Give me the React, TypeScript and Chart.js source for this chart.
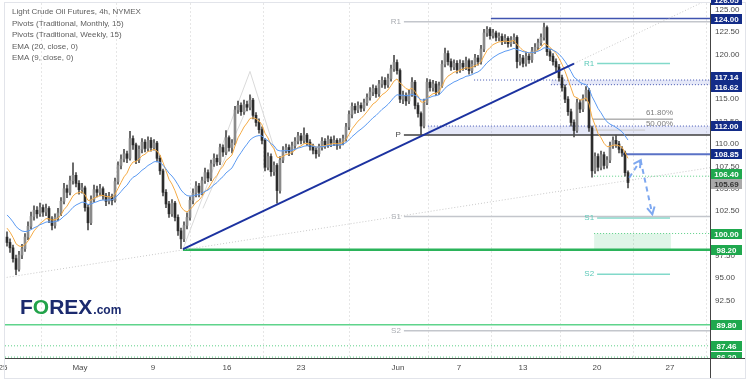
import React, { useEffect, useRef } from "react";
import { Chart, registerables } from "chart.js";

Chart.register(...registerables);

// ---- Candles (4h bars, index 0 = 25 Apr) ----
const OPEN = [
  99.6, 99.0, 98.4, 97.2, 96.0, 97.6, 98.3, 99.6, 100.8, 101.9,
  102.6, 102.2, 102.9, 102.4, 102.8, 101.6, 100.9, 101.8, 102.3, 103.6,
  105.0, 104.6, 105.9, 106.5, 105.6, 104.9, 105.1, 102.9, 101.2, 103.8,
  104.9, 104.6, 105.0, 104.2, 103.6, 104.1, 103.7, 105.8, 107.6, 108.3,
  108.9, 108.4, 110.6, 109.9, 108.2, 109.4, 110.2, 109.5, 110.4, 109.6,
  110.1, 108.4, 107.0, 104.6, 103.3, 102.2, 103.4, 101.8, 100.3, 99.4,
  100.9, 101.8, 103.7, 104.5, 105.3, 104.6, 105.9, 106.8, 106.2, 107.8,
  108.4, 108.0, 109.6, 109.1, 110.7, 109.6, 110.1, 113.8, 114.3, 113.6,
  114.4, 114.1, 114.9, 113.2, 112.4, 111.6, 110.4, 107.4, 108.6, 106.9,
  107.6, 104.8, 108.2, 109.3, 109.6, 109.1, 109.8, 110.3, 110.9, 110.4,
  111.0, 110.2, 109.7, 109.3, 108.9, 109.6, 110.3, 109.9, 110.5, 110.1,
  110.4, 109.8, 110.2, 110.6, 111.9, 113.3, 114.2, 113.8, 114.3, 114.0,
  114.6, 115.2, 115.8, 116.2, 115.6, 116.7, 117.1, 116.6, 117.3, 118.4,
  119.1, 118.2, 115.0, 115.4, 114.8, 115.6, 116.9, 114.3, 113.4, 112.0,
  114.6, 116.9, 116.3, 116.7, 115.8, 116.5, 118.9, 120.1, 119.2, 118.6,
  119.0, 118.3, 119.0, 118.6, 119.3, 118.2, 118.9, 119.6, 119.2, 120.6,
  122.4, 122.8, 122.1, 122.4, 121.9, 122.0, 121.5, 121.8, 121.2, 121.6,
  121.9, 119.2, 119.6, 119.0, 119.8, 119.4, 120.4, 120.8, 121.3, 121.9,
  123.0, 120.3, 119.8, 119.2, 118.6, 117.4, 116.3, 115.0, 113.6, 112.4,
  111.5, 114.6, 113.9, 115.1, 116.0, 111.8, 107.0, 108.6, 107.4, 108.8,
  107.6, 108.2, 109.8, 110.4, 110.0, 109.4, 109.0, 106.8,
];
const HIGH = [
  100.2, 99.4, 98.7, 97.6, 98.0, 98.8, 100.0, 101.3, 102.4, 103.1,
  103.0, 103.4, 103.2, 103.3, 103.0, 101.9, 102.2, 102.8, 104.0, 105.6,
  105.4, 106.4, 107.9, 106.8, 105.9, 105.6, 105.3, 103.2, 104.2, 105.4,
  105.3, 105.5, 105.2, 104.5, 104.6, 104.4, 106.2, 108.0, 108.8, 109.4,
  109.2, 111.4, 110.9, 110.1, 109.8, 110.6, 110.5, 110.8, 110.7, 110.5,
  110.3, 108.7, 107.2, 104.9, 103.6, 103.8, 103.6, 102.1, 100.6, 101.3,
  102.3, 104.1, 105.0, 105.8, 105.6, 106.3, 107.3, 107.1, 108.2, 108.9,
  108.8, 110.0, 109.9, 111.5, 110.9, 110.5, 114.2, 114.8, 114.6, 114.9,
  114.8, 115.5, 115.1, 113.5, 112.8, 111.9, 110.6, 109.0, 108.9, 108.0,
  107.8, 108.6, 109.7, 110.0, 109.9, 110.2, 110.7, 111.3, 111.2, 111.8,
  111.2, 110.5, 110.0, 109.6, 110.0, 110.7, 110.6, 110.9, 110.8, 110.9,
  110.6, 110.6, 111.0, 112.3, 113.7, 114.6, 114.5, 114.7, 114.6, 115.0,
  115.6, 116.3, 116.6, 116.5, 117.1, 117.5, 117.4, 117.8, 118.8, 119.9,
  119.4, 118.4, 115.9, 115.7, 116.0, 117.4, 117.1, 114.6, 113.6, 115.0,
  117.3, 117.2, 117.1, 117.0, 116.9, 119.3, 120.7, 120.4, 119.5, 119.4,
  119.3, 119.4, 119.3, 119.7, 119.5, 119.3, 120.0, 119.9, 121.0, 122.8,
  123.1, 123.0, 122.8, 122.6, 122.4, 122.3, 122.2, 122.0, 122.0, 122.3,
  122.1, 120.0, 119.9, 120.2, 120.1, 120.8, 121.2, 121.7, 122.3, 123.5,
  123.2, 120.6, 120.1, 119.5, 118.9, 117.7, 116.6, 115.3, 113.9, 112.7,
  115.0, 114.9, 115.5, 116.4, 116.2, 112.0, 109.0, 108.9, 109.2, 109.1,
  108.6, 110.2, 110.8, 111.0, 110.3, 109.7, 109.2, 107.0,
];
const LOW = [
  98.6, 97.9, 96.8, 95.4, 95.8, 97.2, 98.0, 99.3, 100.5, 101.5,
  101.7, 101.9, 101.9, 102.0, 101.2, 100.4, 100.6, 101.4, 102.0, 103.3,
  104.0, 104.3, 105.5, 105.2, 104.4, 104.5, 102.5, 100.4, 101.0, 103.5,
  104.1, 104.2, 103.8, 103.1, 103.3, 103.2, 103.5, 105.5, 107.2, 108.0,
  107.9, 108.2, 109.4, 107.8, 107.9, 109.0, 109.1, 109.2, 109.2, 109.3,
  108.0, 106.6, 104.2, 102.9, 101.8, 101.9, 101.4, 99.8, 98.3, 99.1,
  100.5, 101.5, 103.3, 104.1, 104.1, 104.3, 105.6, 105.8, 105.9, 107.5,
  107.6, 107.7, 108.6, 108.8, 109.2, 109.0, 109.9, 113.4, 113.2, 113.3,
  113.7, 113.8, 112.8, 112.0, 111.2, 110.0, 107.0, 107.1, 106.4, 106.5,
  103.4, 104.5, 107.9, 109.0, 108.7, 108.8, 109.5, 110.0, 110.0, 110.1,
  109.8, 109.3, 108.9, 108.4, 108.6, 109.3, 109.5, 109.6, 109.7, 109.8,
  109.4, 109.5, 109.9, 110.3, 111.6, 112.9, 113.4, 113.5, 113.6, 113.7,
  114.3, 114.9, 115.4, 115.2, 115.3, 116.3, 116.2, 116.3, 117.0, 118.1,
  117.8, 114.6, 114.5, 114.3, 114.5, 115.3, 113.9, 113.0, 111.0, 111.8,
  114.4, 115.9, 115.9, 115.4, 115.5, 116.3, 118.6, 118.8, 118.2, 118.3,
  117.9, 118.0, 118.2, 118.3, 117.8, 117.9, 118.6, 118.8, 118.9, 120.3,
  122.0, 121.7, 121.8, 121.5, 121.5, 121.1, 121.2, 120.8, 120.9, 121.2,
  118.5, 118.8, 118.6, 118.7, 119.0, 119.1, 120.1, 120.5, 121.0, 121.6,
  119.9, 119.3, 118.8, 118.1, 117.0, 115.9, 114.6, 113.2, 112.0, 110.8,
  111.3, 113.5, 113.6, 114.8, 111.4, 106.3, 106.7, 107.0, 107.1, 107.2,
  107.3, 107.9, 109.5, 109.6, 109.0, 108.6, 106.4, 105.1,
];
const CLOSE = [
  99.0, 98.4, 97.2, 96.0, 97.6, 98.3, 99.6, 100.8, 101.9, 102.6,
  102.2, 102.9, 102.4, 102.8, 101.6, 100.9, 101.8, 102.3, 103.6, 105.0,
  104.6, 105.9, 106.5, 105.6, 104.9, 105.1, 102.9, 101.2, 103.8, 104.9,
  104.6, 105.0, 104.2, 103.6, 104.1, 103.7, 105.8, 107.6, 108.3, 108.9,
  108.4, 110.6, 109.9, 108.2, 109.4, 110.2, 109.5, 110.4, 109.6, 110.1,
  108.4, 107.0, 104.6, 103.3, 102.2, 103.4, 101.8, 100.3, 99.4, 100.9,
  101.8, 103.7, 104.5, 105.3, 104.6, 105.9, 106.8, 106.2, 107.8, 108.4,
  108.0, 109.6, 109.1, 110.7, 109.6, 110.1, 113.8, 114.3, 113.6, 114.4,
  114.1, 114.9, 113.2, 112.4, 111.6, 110.4, 107.4, 108.6, 106.9, 107.6,
  104.8, 108.2, 109.3, 109.6, 109.1, 109.8, 110.3, 110.9, 110.4, 111.0,
  110.2, 109.7, 109.3, 108.9, 109.6, 110.3, 109.9, 110.5, 110.1, 110.4,
  109.8, 110.2, 110.6, 111.9, 113.3, 114.2, 113.8, 114.3, 114.0, 114.6,
  115.2, 115.8, 116.2, 115.6, 116.7, 117.1, 116.6, 117.3, 118.4, 119.1,
  118.2, 115.0, 115.4, 114.8, 115.6, 116.9, 114.3, 113.4, 112.0, 114.6,
  116.9, 116.3, 116.7, 115.8, 116.5, 118.9, 120.1, 119.2, 118.6, 119.0,
  118.3, 119.0, 118.6, 119.3, 118.2, 118.9, 119.6, 119.2, 120.6, 122.4,
  122.8, 122.1, 122.4, 121.9, 122.0, 121.5, 121.8, 121.2, 121.6, 121.9,
  119.2, 119.6, 119.0, 119.8, 119.4, 120.4, 120.8, 121.3, 121.9, 123.0,
  120.3, 119.8, 119.2, 118.6, 117.4, 116.3, 115.0, 113.6, 112.4, 111.5,
  114.6, 113.9, 115.1, 116.0, 111.8, 107.0, 108.6, 107.4, 108.8, 107.6,
  108.2, 109.8, 110.4, 110.0, 109.4, 109.0, 106.8, 105.69,
];

// EMA starting values
const EMA20_SEED = 102.4;
const EMA9_SEED = 101.0;

// ---- Axes ----
const DATE_TICKS = [-1.33, 24.33, 48.67, 73.33, 98, 130.33, 150.67, 172, 196.67, 221];
const DATE_LABELS = ["25", "May", "9", "16", "23", "Jun", "7", "13", "20", "27"];
const Y_TICKS = [87.5, 90, 92.5, 95, 97.5, 100, 102.5, 105, 107.5, 110, 112.5, 115, 117.5, 120, 122.5, 125];
const X_MIN = -0.667;
const X_MAX = 234.33;
const Y_MIN = 86.1;
const Y_MAX = 125.74;

// ---- Pivots ----
const MONTHLY_PIVOTS = [123.65, 111.0, 101.9, 89.15];
const MONTHLY_LABELS = ["R1", "P", "S1", "S2"];
const MONTHLY_START = 132.3;
const WEEKLY_PIVOTS = [118.98, 101.73, 95.45];
const WEEKLY_LABELS = ["R1", "S1", "S2"];
const WEEKLY_RANGE = [196.7, 221];
const FIB_VALUES = [112.77, 111.55];
const FIB_LABELS = ["61.80%", "50.00%"];
const FIB_START = 195.3;
const FIB_ENDS = [222, 212.7];

// ---- Horizontal levels ----
const RESISTANCE_LEVELS = [124.0, 117.14, 116.62, 112.0, 108.85];
const RESISTANCE_START = [161.3, 155.7, 181.3, 140.3, 205.3];
const SUPPORT_LEVELS = [106.4, 100.0, 98.2, 89.8, 87.46, 86.2];
const SUPPORT_START = [195.7, 195.7, 58.67, X_MIN, X_MIN, X_MIN];
const TOP_LEVEL = 126.05;
const ZONE_BLUE_1 = [116.62, 117.14, 181.3];
const ZONE_BLUE_2 = [111.0, 112.0, 140.3];
const ZONE_GREEN = [98.2, 100.0, 195.7, 221.3];

// ---- Drawn lines [index, price] ----
const NAVY_TREND = [[58.67, 98.25], [189, 118.98]];
const TREND_EXT = [[189, 118.98], [234.33, 126.22]];
const LONG_TREND = [[-0.1, 95.1], [234.33, 107.35]];
const CHANNEL_A = [[58.67, 98.26], [81, 118.1]];
const CHANNEL_B = [[65.3, 102.8], [81.7, 115.3]];
const CHANNEL_C = [[81, 118.1], [89.9, 108.6]];
const ARROW_PATH = [[207.4, 106.23], [211.2, 108.19], [215.1, 102.15]];

const LEGEND = [
  "Light Crude Oil Futures, 4h, NYMEX",
  "Pivots (Traditional, Monthly, 15)",
  "Pivots (Traditional, Weekly, 15)",
  "EMA (20, close, 0)",
  "EMA (9, close, 0)",
];

const FONT = '"Liberation Sans", Arial, sans-serif';

function ema(src: number[], n: number, seed: number) {
  const k = 2 / (n + 1);
  let e = seed;
  return src.map((v) => (e = v * k + e * (1 - k)));
}

function seg(pts: number[][], color: string, width: number, dash: number[], order: number) {
  return {
    type: "line" as const,
    data: pts.map(([x, y]) => ({ x, y })),
    borderColor: color,
    borderWidth: width,
    borderDash: dash,
    pointRadius: 0,
    fill: false,
    tension: 0,
    order,
  };
}

export default function App() {
  const ref = useRef<HTMLCanvasElement>(null);

  useEffect(() => {
    const canvas = ref.current!;
    const ema20 = ema(CLOSE, 20, EMA20_SEED);
    const ema9 = ema(CLOSE, 9, EMA9_SEED);
    const up = CLOSE.map((c, i) => c >= OPEN[i]);

    const lines: any[] = [];
    MONTHLY_PIVOTS.forEach((v, k) => {
      const isP = MONTHLY_LABELS[k] === "P";
      lines.push(seg([[MONTHLY_START, v], [X_MAX, v]], isP ? "#3f3f3f" : "#c3c6cc", 1.5, [], 10));
    });
    WEEKLY_PIVOTS.forEach((v) => lines.push(seg([[WEEKLY_RANGE[0], v], [WEEKLY_RANGE[1], v]], "#82d9ca", 1.5, [], 10)));
    FIB_VALUES.forEach((v, k) => lines.push(seg([[FIB_START, v], [FIB_ENDS[k], v]], k === 0 ? "#8a8a8a" : "#c9c9c9", 1, [], 10)));
    RESISTANCE_LEVELS.forEach((v, k) => {
      const dotted = k === 1 || k === 2 || k === 3;
      const color = k === 4 ? "#5a72c6" : "#4054b0";
      const width = k === 4 ? 2 : dotted ? 1 : 1.5;
      lines.push(seg([[RESISTANCE_START[k], v], [X_MAX, v]], color, width, dotted ? [1, 2] : [], 10));
    });
    SUPPORT_LEVELS.forEach((v, k) => {
      const solid = k === 2 || k === 3;
      const color = k === 2 ? "#2bb35a" : k === 3 ? "#5fd48b" : "#5ccf86";
      const width = k === 2 ? 2.5 : solid ? 1.5 : 1;
      lines.push(seg([[SUPPORT_START[k], v], [X_MAX, v]], color, width, solid ? [] : [1, 2], 10));
    });
    lines.push(seg(LONG_TREND, "#c8c8c8", 1, [1, 2], 9));
    lines.push(seg(TREND_EXT, "#c8c8c8", 1, [1, 2], 9));
    lines.push(seg(CHANNEL_A, "#dadada", 1, [], 9));
    lines.push(seg(CHANNEL_B, "#dadada", 1, [], 9));
    lines.push(seg(CHANNEL_C, "#dadada", 1, [], 9));
    lines.push(seg(NAVY_TREND, "#1c32a0", 2, [], 2));
    lines.push(seg(ARROW_PATH.slice(0, 2), "#7ea8f0", 2, [5, 4], 1));
    lines.push(seg(ARROW_PATH.slice(1, 3), "#7ea8f0", 2, [5, 4], 1));

    const overlay = {
      id: "overlay",
      beforeDatasetsDraw(chart: any) {
        const { ctx, chartArea: ca, scales } = chart;
        const x = scales.x, y = scales.y;
        ctx.save();
        ctx.beginPath();
        ctx.rect(ca.left, ca.top, ca.right - ca.left, ca.bottom - ca.top);
        ctx.clip();
        const band = (lo: number, hi: number, x1: number, x2: number, color: string) => {
          const px1 = x.getPixelForValue(x1), px2 = x.getPixelForValue(x2);
          const py1 = y.getPixelForValue(hi), py2 = y.getPixelForValue(lo);
          ctx.fillStyle = color;
          ctx.fillRect(px1, py1, px2 - px1, py2 - py1);
        };
        band(ZONE_BLUE_1[0], ZONE_BLUE_1[1], ZONE_BLUE_1[2], X_MAX, "rgba(110,130,215,0.18)");
        band(ZONE_BLUE_2[0], ZONE_BLUE_2[1], ZONE_BLUE_2[2], X_MAX, "rgba(110,130,215,0.18)");
        band(ZONE_GREEN[0], ZONE_GREEN[1], ZONE_GREEN[2], ZONE_GREEN[3], "rgba(60,190,110,0.16)");
        ctx.restore();
      },
      afterDraw(chart: any) {
        const { ctx, chartArea: ca, scales } = chart;
        const x = scales.x, y = scales.y;
        ctx.save();
        ctx.strokeStyle = "#e2e4ea";
        ctx.lineWidth = 1;
        ctx.strokeRect(4.5, 2.5, 741, 376);
        ctx.strokeStyle = "#444";
        ctx.beginPath();
        ctx.moveTo(ca.right, ca.bottom + 0.5);
        ctx.lineTo(745, ca.bottom + 0.5);
        ctx.moveTo(ca.right + 0.5, ca.bottom);
        ctx.lineTo(ca.right + 0.5, 378);
        ctx.stroke();

        ctx.font = `8px ${FONT}`;
        ctx.fillStyle = "#5e5e5e";
        ctx.textBaseline = "middle";
        ctx.textAlign = "left";
        LEGEND.forEach((t, k) => ctx.fillText(t, 12, 12 + k * 11.5));

        ctx.textAlign = "right";
        MONTHLY_PIVOTS.forEach((v, k) => {
          ctx.fillStyle = MONTHLY_LABELS[k] === "P" ? "#444" : "#a9acb2";
          ctx.fillText(MONTHLY_LABELS[k], x.getPixelForValue(MONTHLY_START) - 3, y.getPixelForValue(v));
        });
        WEEKLY_PIVOTS.forEach((v, k) => {
          ctx.fillStyle = "#5cc9b8";
          ctx.fillText(WEEKLY_LABELS[k], x.getPixelForValue(WEEKLY_RANGE[0]) - 3, y.getPixelForValue(v));
        });
        FIB_VALUES.forEach((v, k) => {
          ctx.fillStyle = "#7d7d7d";
          ctx.fillText(FIB_LABELS[k], x.getPixelForValue(FIB_ENDS[0]), y.getPixelForValue(v) - 6);
        });

        const P = ARROW_PATH.map(([a, b]) => [x.getPixelForValue(a), y.getPixelForValue(b)]);
        const head = (from: number[], to: number[]) => {
          const th = Math.atan2(to[1] - from[1], to[0] - from[0]);
          ctx.beginPath();
          ctx.moveTo(to[0] + 8 * Math.cos(th + Math.PI - 0.5), to[1] + 8 * Math.sin(th + Math.PI - 0.5));
          ctx.lineTo(to[0], to[1]);
          ctx.lineTo(to[0] + 8 * Math.cos(th + Math.PI + 0.5), to[1] + 8 * Math.sin(th + Math.PI + 0.5));
          ctx.stroke();
        };
        ctx.strokeStyle = "#7ea8f0";
        ctx.lineWidth = 2;
        ctx.setLineDash([]);
        head(P[0], P[1]);
        head(P[1], P[2]);

        const H = 10;
        const items: any[] = [
          { v: TOP_LEVEL, bg: "#132c88", fg: "#fff" },
          ...RESISTANCE_LEVELS.map((v) => ({ v, bg: "#132c88", fg: "#fff" })),
          ...SUPPORT_LEVELS.map((v) => ({ v, bg: "#1fa84e", fg: "#fff" })),
          { v: CLOSE[CLOSE.length - 1], bg: "#a9a9a9", fg: "#333" },
        ];
        items.forEach((it) => (it.py = y.getPixelForValue(it.v)));
        items.sort((a, b) => a.py - b.py);
        for (let k = 0; k < items.length - 1; k++) {
          const a = items[k], b = items[k + 1];
          if (b.py - a.py < H) {
            const m = (a.py + b.py) / 2;
            a.py = m - H / 2;
            b.py = m + H / 2;
          }
        }
        ctx.save();
        ctx.beginPath();
        ctx.rect(ca.right, 0, 60, ca.bottom);
        ctx.clip();
        ctx.font = `bold 8px ${FONT}`;
        ctx.textAlign = "center";
        items.forEach((it) => {
          ctx.fillStyle = it.bg;
          ctx.fillRect(ca.right + 1, Math.round(it.py - H / 2), 31, H);
          ctx.fillStyle = it.fg;
          ctx.fillText(it.v.toFixed(2), ca.right + 16.5, Math.round(it.py - H / 2) + H / 2 + 0.5);
        });
        ctx.restore();

        ctx.textAlign = "left";
        ctx.textBaseline = "alphabetic";
        ctx.font = `bold 21px ${FONT}`;
        let lx = 20;
        const ly = 314;
        ctx.fillStyle = "#1b2a6e";
        ctx.fillText("F", lx, ly);
        lx += ctx.measureText("F").width;
        ctx.fillStyle = "#22a34a";
        ctx.fillText("O", lx, ly);
        lx += ctx.measureText("O").width;
        ctx.fillStyle = "#1b2a6e";
        ctx.fillText("REX", lx, ly);
        lx += ctx.measureText("REX").width + 1;
        ctx.font = `bold 12px ${FONT}`;
        ctx.fillText(".com", lx, ly);
        ctx.restore();
      },
    };

    const chart = new Chart(canvas, {
      type: "bar",
      data: {
        datasets: [
          ...lines,
          {
            type: "line",
            data: ema20.map((v, i) => ({ x: i, y: v })),
            borderColor: "#5b9af2",
            borderWidth: 1,
            pointRadius: 0,
            tension: 0,
            order: 3,
          },
          {
            type: "line",
            data: ema9.map((v, i) => ({ x: i, y: v })),
            borderColor: "#f5ab45",
            borderWidth: 1,
            pointRadius: 0,
            tension: 0,
            order: 3,
          },
          {
            type: "bar",
            data: CLOSE.map((_, i) => ({ x: i, y: [LOW[i], HIGH[i]] })),
            backgroundColor: "#4d4d4d",
            barThickness: 1,
            grouped: false,
            order: 5,
          },
          {
            type: "bar",
            data: CLOSE.map((c, i) => ({ x: i, y: [OPEN[i], c] })),
            backgroundColor: up.map((u) => (u ? "#8a8a8a" : "#2c2c2c")),
            barThickness: 2,
            minBarLength: 1,
            grouped: false,
            order: 4,
          },
        ] as any,
      },
      options: {
        responsive: false,
        animation: false,
        events: [],
        layout: { padding: { left: 5, top: 3, right: 0, bottom: 0 } },
        plugins: { legend: { display: false }, tooltip: { enabled: false } },
        scales: {
          x: {
            type: "linear",
            min: X_MIN,
            max: X_MAX,
            offset: false,
            afterBuildTicks: (s: any) => {
              s.ticks = DATE_TICKS.map((v) => ({ value: v }));
            },
            afterFit: (s: any) => {
              s.height = 24;
              s.paddingLeft = 0;
              s.paddingRight = 0;
            },
            ticks: {
              autoSkip: false,
              maxRotation: 0,
              padding: 5,
              color: "#4a4a4a",
              font: { family: FONT, size: 8 },
              callback: (_v: any, idx: number) => DATE_LABELS[idx],
            },
            grid: {
              color: (c: any) => (c.index === 0 ? "rgba(0,0,0,0)" : "#e6e6e6"),
              drawTicks: false,
              lineWidth: 1,
            },
            border: { display: true, color: "#444", width: 1, dash: [2, 2] },
          },
          y: {
            type: "linear",
            position: "right",
            min: Y_MIN,
            max: Y_MAX,
            afterBuildTicks: (s: any) => {
              s.ticks = Y_TICKS.map((v) => ({ value: v }));
            },
            afterFit: (s: any) => {
              s.width = 41;
              s.paddingTop = 0;
              s.paddingBottom = 0;
            },
            ticks: {
              padding: 5,
              color: "#4a4a4a",
              font: { family: FONT, size: 8 },
              callback: (v: any) => Number(v).toFixed(2),
            },
            grid: { display: false, drawTicks: false },
            border: { display: true, color: "#444", width: 1 },
          },
        },
      } as any,
      plugins: [overlay],
    });
    return () => chart.destroy();
  }, []);

  return (
    <div style={{ position: "fixed", left: 0, top: 0, width: 751, height: 382, background: "#fff" }}>
      <canvas ref={ref} width={751} height={382} style={{ display: "block" }} />
    </div>
  );
}
